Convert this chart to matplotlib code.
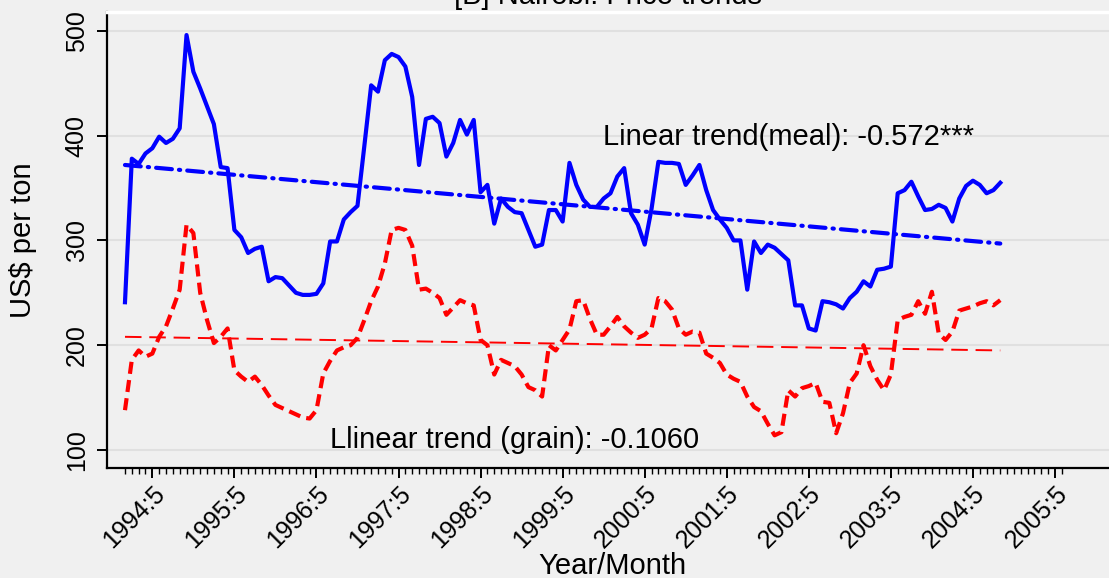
import numpy as np
import matplotlib
matplotlib.use("Agg")
import matplotlib.pyplot as plt
import matplotlib.transforms as mtransforms

# Monthly prices, Nairobi, 1994:1 - 2004:9 (US$ per ton)
start_year, start_month = 1994, 1
meal = [241, 378, 373, 383, 388, 399, 393, 397, 407, 496,
        461, 445, 428, 411, 370, 369, 310, 303, 288, 292,
        294, 261, 265, 264, 257, 250, 248, 248, 249, 259,
        299, 299, 320, 327, 333, 390, 448, 442, 472, 478,
        475, 466, 437, 372, 416, 418, 412, 380, 393, 415,
        401, 415, 346, 353, 316, 340, 332, 327, 326, 310,
        294, 296, 329, 329, 318, 374, 353, 339, 332, 332,
        340, 345, 361, 369, 326, 315, 296, 330, 375, 374,
        374, 373, 353, 362, 372, 348, 329, 320, 312, 300,
        300, 253, 299, 288, 296, 293, 287, 281, 238, 238,
        216, 214, 242, 241, 239, 235, 245, 251, 261, 256,
        272, 273, 275, 345, 348, 356, 342, 329, 330, 334,
        331, 318, 340, 352, 357, 353, 345, 348, 355]
grain = [138, 186, 195, 189, 192, 208, 218, 235, 253, 315,
         307, 250, 224, 202, 208, 216, 176, 170, 165, 170,
         162, 152, 143, 140, 137, 134, 131, 130, 138, 173,
         185, 195, 198, 200, 207, 224, 242, 256, 278, 310,
         312, 310, 295, 253, 254, 250, 245, 229, 236, 243,
         240, 238, 205, 200, 172, 186, 183, 180, 172, 160,
         157, 151, 200, 195, 205, 215, 242, 243, 225, 210,
         210, 218, 227, 218, 212, 207, 210, 216, 245, 242,
         234, 216, 210, 213, 212, 192, 188, 183, 172, 168,
         165, 151, 141, 137, 125, 114, 117, 157, 151, 159,
         161, 164, 146, 145, 116, 135, 164, 173, 200, 180,
         167, 157, 172, 224, 227, 229, 242, 230, 251, 211,
         205, 213, 233, 235, 237, 240, 242, 238, 243]
# fitted linear trends (first and last month)
trend_meal = [372, 297]
trend_grain = [208, 195]
tick_years = list(range(1994, 2006))
tick_month = 5

t = np.arange(len(meal))
t_ends = [t[0], t[-1]]

bg = '#f0f0f0'
plt.rcParams['font.family'] = ['Liberation Sans', 'DejaVu Sans']
fig = plt.figure(figsize=(11.09, 5.78), dpi=100, facecolor=bg)
ax = fig.add_axes([107/1109, 110/578, 1002/1109, 456/578], facecolor=bg)

ax.plot(t, meal, color='#0000ff', lw=3.0, solid_joinstyle='round', zorder=3)
ax.plot(t, grain, color='#ff0000', lw=3.0, dashes=(2.9, 1.5),
        dash_capstyle='butt', zorder=3)
ax.plot(t_ends, trend_meal, color='#0000ff', lw=3.0,
        dashes=(3.8, 1.7, 0.3, 1.7), dash_capstyle='round', zorder=3)
ax.plot(t_ends, trend_grain, color='#ff0000', lw=1.4,
        dashes=(8.5, 4), zorder=3)

ax.text(69.9, 391, 'Linear trend(meal): -0.572***', fontsize=21, va='baseline')
ax.text(30.0, 102, 'Llinear trend (grain): -0.1060', fontsize=21, va='baseline')

ax.set_xlim(-2.63, 143.9)
ax.set_ylim(82.8, 518)

yt = [100, 200, 300, 400, 500]
ax.set_yticks(yt)
ax.set_yticklabels([str(v) for v in yt], rotation=90, va='center', fontsize=18)
ax.grid(axis='y', color='#e0e0e0', lw=1.5, zorder=0)

major = [(y - start_year) * 12 + tick_month - start_month for y in tick_years]
ax.set_xticks(major)
ax.set_xticklabels(['%d:%d' % (y, tick_month) for y in tick_years],
                   rotation=45, ha='right', va='top', rotation_mode='anchor',
                   fontsize=18)
shift = mtransforms.ScaledTranslation(4/100, 0, fig.dpi_scale_trans)
for lab in ax.get_xticklabels():
    lab.set_transform(lab.get_transform() + shift)
ax.set_xticks(np.arange(0, major[-1] + 2), minor=True)
ax.tick_params(axis='x', which='major', length=7.5, width=1.4, pad=2)
ax.tick_params(axis='x', which='minor', length=4, width=1.0)
ax.tick_params(axis='y', length=7.2, width=1.4, pad=6)

for s in ['left', 'bottom']:
    ax.spines[s].set_linewidth(1.6)
ax.spines['right'].set_visible(False)
ax.spines['top'].set_color('white')
ax.spines['top'].set_linewidth(2.5)

ax.set_ylabel('US$ per ton', fontsize=21)
ax.yaxis.set_label_coords(-0.07, 0.5)
ax.set_title('[B] Nairobi: Price trends', fontsize=21, pad=6)
fig.text(612/1109, 4/578, 'Year/Month', fontsize=21, ha='center', va='baseline')

fig.savefig('out.png', dpi=100, facecolor=bg)
